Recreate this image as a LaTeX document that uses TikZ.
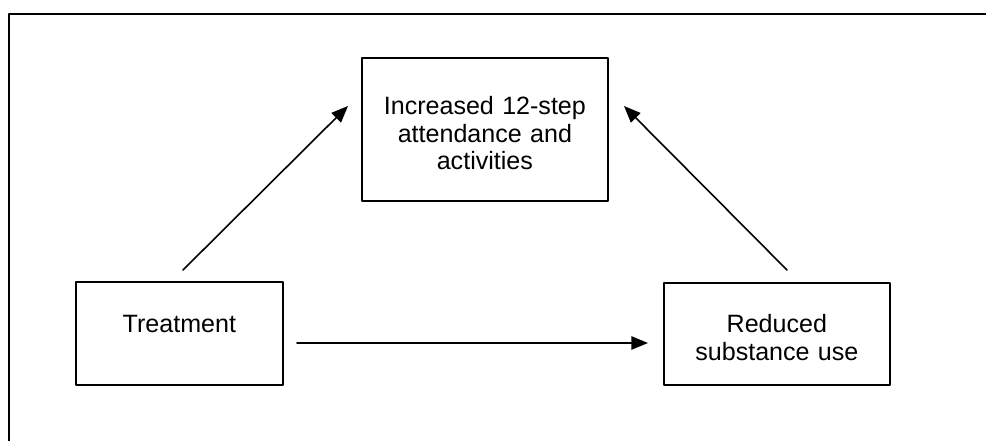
\documentclass[tikz,border=0pt]{standalone}
\usepackage{fontspec}
\setmainfont{Liberation Sans}
\usetikzlibrary{arrows.meta}
\tikzset{
  box/.style={draw, line width=1.3pt, inner sep=0pt, align=center, anchor=north west},
  link/.style={->, line width=1.2pt}
}
\begin{document}
\begin{tikzpicture}[line cap=round,line join=round,>={Triangle[length=12.5pt,width=10pt]},x=0.75pt,y=-0.75pt,font=\fontsize{18.8}{20.6}\selectfont]
\clip (0,0) rectangle (986,441);
% outer frame, open to the right and bottom
\draw [line width=1.7pt] (9.3,460) -- (9.3,13.7) -- (1000,13.7);
% boxes
\node [box, text width=184.5pt, text height=42.75pt, text depth=64.5pt] (steps) at (361,57) {Increased 12-step\\attendance and\\activities};
\node [box, text width=155.25pt, text height=38.25pt, text depth=39pt] (treat) at (75,281) {Treatment};
\node [box, text width=169.5pt, text height=37.5pt, text depth=39pt] (reduced) at (663,282) {Reduced\\substance use};
% arrow ends
\coordinate (treat-up) at (183,270);
\coordinate (steps-left) at (348,106);
\coordinate (reduced-up) at (787,270);
\coordinate (steps-right) at (624,106);
\coordinate (treat-right) at (297,343);
\coordinate (reduced-left) at (648,343);
\draw [link] (treat-up) -- (steps-left);
\draw [link] (reduced-up) -- (steps-right);
\draw [link] (treat-right) -- (reduced-left);
\end{tikzpicture}
\end{document}
